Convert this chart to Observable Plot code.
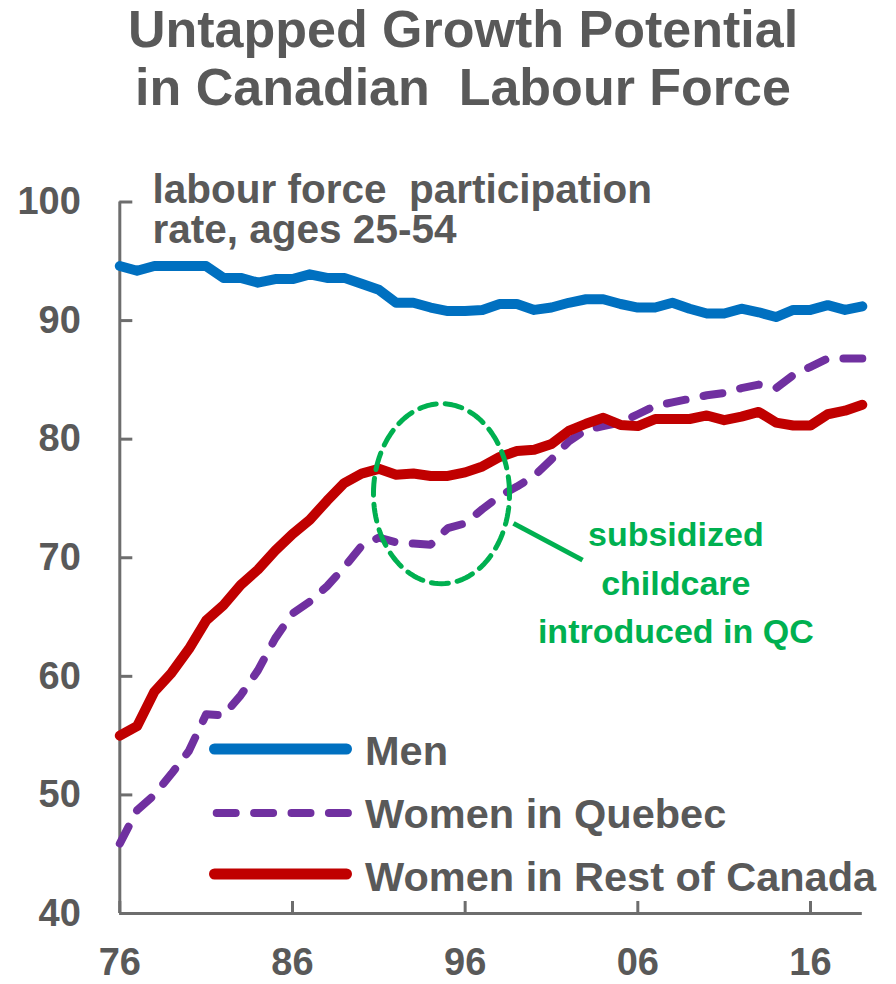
<!DOCTYPE html>
<html><head><meta charset="utf-8">
<script src="https://cdn.jsdelivr.net/npm/d3@7"></script>
<script src="https://cdn.jsdelivr.net/npm/@observablehq/plot@0.6"></script>
<style>
body{margin:0;background:#fff;}
#wrap{position:relative;width:896px;height:984px;overflow:hidden;font-family:"Liberation Sans",Arial,sans-serif;font-weight:bold;color:#595959;background:#fff;}
.tline{position:absolute;left:0;width:896px;box-sizing:border-box;padding-left:30px;text-align:center;font-size:52px;line-height:58px;height:58px;white-space:pre;}
#chart{position:absolute;left:0;top:120px;}
#chart text{white-space:pre;}
.legtext{position:absolute;font-size:41.5px;line-height:40px;white-space:nowrap;}
.legsw{position:absolute;}
</style></head><body>
<div id="wrap">
<div id="title"><div class="tline" style="top:0px">Untapped Growth Potential</div><div class="tline" style="top:58px">in Canadian  Labour Force</div></div>
<div id="chart"></div>
<div id="legend"></div>
</div>
<script>
// ---- data ----
const years = d3.range(1976, 2020);
const men = [94.6, 94.2, 94.6, 94.6, 94.6, 94.6, 93.6, 93.6, 93.2, 93.5, 93.5, 93.9, 93.6, 93.6, 93.1, 92.6, 91.5, 91.5, 91.1, 90.8, 90.8, 90.9, 91.4, 91.4, 90.9, 91.1, 91.5, 91.8, 91.8, 91.4, 91.1, 91.1, 91.5, 91.0, 90.6, 90.6, 91.0, 90.7, 90.3, 90.9, 90.9, 91.3, 90.9, 91.2];
const womenQuebec = [45.9, 48.7, 50.0, 51.8, 53.7, 56.8, 56.7, 58.4, 60.5, 63.2, 65.3, 66.3, 67.6, 69.2, 71.0, 71.7, 71.3, 71.2, 71.1, 72.5, 72.9, 74.1, 75.2, 76.0, 76.9, 78.3, 79.8, 80.8, 81.1, 81.4, 82.1, 82.8, 83.1, 83.4, 83.7, 83.9, 84.3, 84.6, 84.3, 85.4, 86.1, 86.8, 86.8, 86.8];
const womenRest = [55.0, 55.8, 58.7, 60.3, 62.3, 64.7, 66.0, 67.7, 69.0, 70.6, 72.0, 73.2, 74.8, 76.3, 77.1, 77.5, 77.0, 77.1, 76.9, 76.9, 77.2, 77.7, 78.5, 79.0, 79.1, 79.6, 80.7, 81.3, 81.8, 81.2, 81.1, 81.7, 81.7, 81.7, 82.0, 81.6, 81.9, 82.3, 81.4, 81.15, 81.15, 82.1, 82.4, 82.9];
const seriesNames = ["Men", "Women in Quebec", "Women in Rest of Canada"];
const xTicks = [1976, 1986, 1996, 2006, 2016];
const yTicks = [40, 50, 60, 70, 80, 90, 100];
const subtitle = "labour force  participation\nrate, ages 25-54";
const noteText = "subsidized\nchildcare\nintroduced in QC";
// annotation anchors (data coordinates)
const noteEllipse = {year: 1994.63, value: 75.4, ry: 3.94, rv: 7.59};
const noteLeader = {x1: 1998.8, y1: 72.9, x2: 2002.8, y2: 69.8};
const noteLabel = {year: 2008.2, value: 62.8};

// ---- styling ----
const gray = "#595959";
const axisGray = "#6d6d6d";
const colors = {"Men": "#0070C0", "Women in Quebec": "#7030A0", "Women in Rest of Canada": "#C00000"};
const green = "#00B050";

const rows = years.map((y, i) => ({year: y, men: men[i], qc: womenQuebec[i], roc: womenRest[i]}));
const ellipsePts = d3.range(0, 360, 3).map(a => ({
  year: noteEllipse.year + noteEllipse.ry * Math.cos(a * Math.PI / 180),
  value: noteEllipse.value + noteEllipse.rv * Math.sin(a * Math.PI / 180)
}));

const chart = Plot.plot({
  width: 896, height: 864,
  marginLeft: 119.3, marginRight: 34.2, marginTop: 81.5, marginBottom: 71,
  style: {fontFamily: "'Liberation Sans', Arial, sans-serif", fontWeight: "bold", color: gray, background: "white", overflow: "visible"},
  x: {domain: [1976, 2019]},
  y: {domain: [40, 100]},
  marks: [
    Plot.axisY({ticks: yTicks, tickSize: -13, tickPadding: 52, fontSize: 38, fontWeight: "bold", color: gray, stroke: axisGray, strokeWidth: 3, label: null}),
    Plot.axisX({ticks: xTicks, tickFormat: d => String(d).slice(2), tickSize: -12, tickPadding: 47, fontSize: 38, fontWeight: "bold", color: gray, stroke: axisGray, strokeWidth: 3, label: null}),
    Plot.ruleX([1976], {stroke: axisGray, strokeWidth: 3}),
    Plot.ruleY([40], {stroke: axisGray, strokeWidth: 3}),
    Plot.line(rows, {x: "year", y: "men", stroke: colors["Men"], strokeWidth: 10, strokeLinejoin: "round"}),
    Plot.line(rows, {x: "year", y: "qc", stroke: colors["Women in Quebec"], strokeWidth: 8, strokeLinecap: "round", strokeLinejoin: "round", strokeDasharray: "19,18.4"}),
    Plot.line(rows, {x: "year", y: "roc", stroke: colors["Women in Rest of Canada"], strokeWidth: 10, strokeLinejoin: "round"}),
    Plot.line(ellipsePts, {x: "year", y: "value", curve: "linear-closed", stroke: green, strokeWidth: 5, strokeDasharray: "17,9"}),
    Plot.link([noteLeader], {x1: "x1", y1: "y1", x2: "x2", y2: "y2", stroke: green, strokeWidth: 5}),
    Plot.text([noteLabel], {x: "year", y: "value", text: () => noteText, lineAnchor: "bottom", textAnchor: "middle", fontSize: 34, lineHeight: 1.43, fill: green, fontWeight: "bold"}),
    Plot.text([subtitle], {frameAnchor: "top-left", dx: 32.7, dy: 40.5, text: d => d, lineAnchor: "bottom", textAnchor: "start", fontSize: 40.5, lineHeight: 0.97, fill: gray, fontWeight: "bold"})
  ]
});
document.getElementById("chart").appendChild(chart);

// ---- legend (overlay in the plot area) ----
const legendLayout = [
  {name: "Men", lineY: 749, base: 765, width: 11, dash: null, cap: "round"},
  {name: "Women in Quebec", lineY: 813, base: 828, width: 8, dash: "19,18.4", cap: "round"},
  {name: "Women in Rest of Canada", lineY: 874, base: 891, width: 11, dash: null, cap: "round"}
];
const leg = document.getElementById("legend");
legendLayout.forEach((r, i) => {
  const name = seriesNames[i];
  const sw = document.createElementNS("http://www.w3.org/2000/svg", "svg");
  sw.setAttribute("class", "legsw");
  sw.setAttribute("width", 160); sw.setAttribute("height", 24);
  sw.style.left = "200px"; sw.style.top = (r.lineY - 12) + "px";
  const ln = document.createElementNS("http://www.w3.org/2000/svg", "line");
  const x1 = r.dash ? 16.7 : 14.5, x2 = r.dash ? 148.7 : 146.5;
  ln.setAttribute("x1", x1); ln.setAttribute("x2", x2);
  ln.setAttribute("y1", 12); ln.setAttribute("y2", 12);
  ln.setAttribute("stroke", colors[name]);
  ln.setAttribute("stroke-width", r.width);
  ln.setAttribute("stroke-linecap", r.cap);
  if (r.dash) ln.setAttribute("stroke-dasharray", r.dash);
  sw.appendChild(ln);
  leg.appendChild(sw);
  const t = document.createElement("div");
  t.className = "legtext";
  t.textContent = name;
  t.style.left = "365px";
  t.style.top = (r.base - 34.5) + "px";
  leg.appendChild(t);
});
</script>
</body></html>
